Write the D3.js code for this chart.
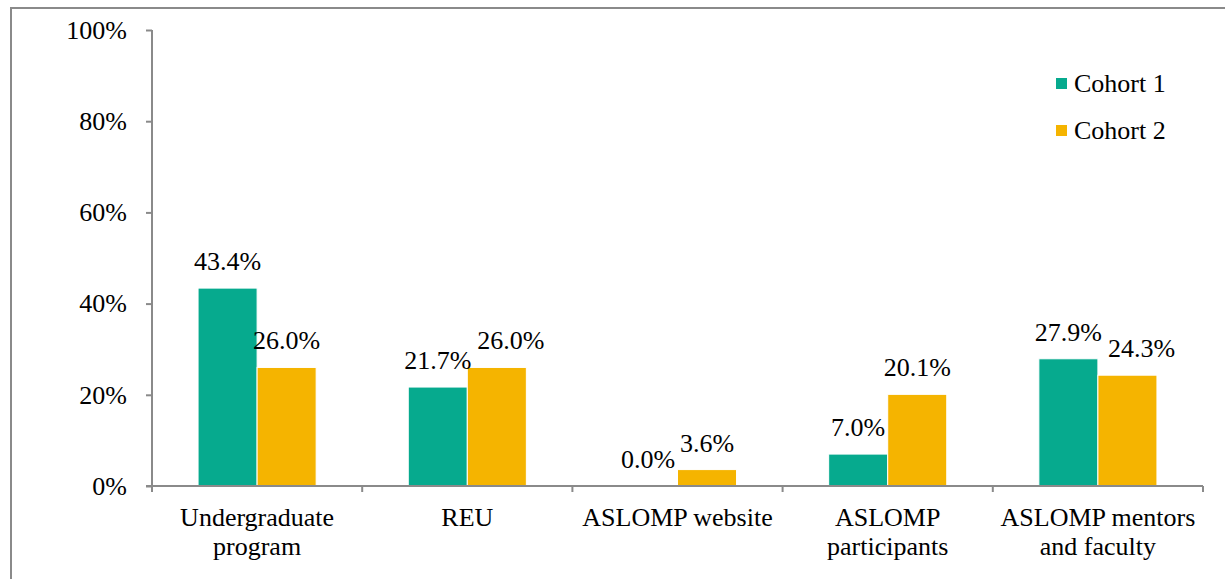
<!DOCTYPE html>
<html>
<head>
<meta charset="utf-8">
<script src="https://cdn.jsdelivr.net/npm/d3@7"></script>
<style>
	body { margin:0; background:#fff; }
</style>
</head>
<body>
<svg id="chart"></svg>
<script>
/*************** data *****************/
var categories = [
	["Undergraduate", "program"],
	["REU"],
	["ASLOMP website"],
	["ASLOMP", "participants"],
	["ASLOMP mentors", "and faculty"]
];
var seriesNames = ["Cohort 1", "Cohort 2"];
var cohort1 = [43.4, 21.7, 0.0, 7.0, 27.9];
var cohort2 = [26.0, 26.0, 3.6, 20.1, 24.3];
var yTicks = [0, 20, 40, 60, 80, 100];
var colors = ["#06aa8e", "#f5b400"];
/*************** end data *****************/

var width = 1225,
	height = 579,
	margin = {top:30, right:22, bottom:93, left:152},
	fontSize = 26,
	fontFamily = "'Liberation Serif', Tinos, 'Times New Roman', Times, serif",
	axisColor = "#8a8a8a";

var innerWidth = width - margin.left - margin.right;
var innerHeight = height - margin.top - margin.bottom;

var svg = d3.select("#chart")
	.attr("width", width)
	.attr("height", height);

//outer frame, only top and left edges show
svg.append("rect")
	.attr("x", 11).attr("y", 8)
	.attr("width", width + 20).attr("height", height + 20)
	.attr("fill", "none")
	.attr("stroke", axisColor)
	.attr("stroke-width", 2);

var g = svg.append("g")
	.attr("transform", "translate(" + margin.left + "," + margin.top + ")");

/*********** scales ***********/
var x0 = d3.scaleBand()
	.domain(d3.range(categories.length))
	.range([0, innerWidth])
	.padding(0);

var x1 = d3.scaleBand()
	.domain(seriesNames)
	.range([0, x0.bandwidth()])
	.paddingInner(0)
	.paddingOuter(0.78);

var y = d3.scaleLinear()
	.domain([0, 100])
	.range([innerHeight, 0]);

/*********** bars ***********/
var rows = categories.map(function(c, i) {
	return {i:i, values:[cohort1[i], cohort2[i]]};
});

var groups = g.selectAll("g.group")
	.data(rows)
	.enter().append("g")
	.attr("class", "group")
	.attr("transform", function(d) { return "translate(" + x0(d.i) + ",0)"; });

groups.selectAll("rect")
	.data(function(d) { return d.values.map(function(v, k) { return {k:k, v:v}; }); })
	.enter().append("rect")
	.attr("x", function(d) { return x1(seriesNames[d.k]); })
	.attr("y", function(d) { return y(d.v); })
	.attr("width", x1.bandwidth())
	.attr("height", function(d) { return innerHeight - y(d.v); })
	.attr("fill", function(d) { return colors[d.k]; })
	.attr("stroke", function(d) { return d.v > 0 ? "#fff" : "none"; })
	.attr("stroke-width", 1);

//value labels
groups.each(function(d) {
	var grp = d3.select(this);
	var labels = d.values.map(function(v, k) {
		return grp.append("text")
			.attr("x", x1(seriesNames[k]) + x1.bandwidth() / 2)
			.attr("y", y(v) - 18)
			.attr("text-anchor", "middle")
			.style("font-family", fontFamily)
			.style("font-size", fontSize + "px")
			.text(v.toFixed(1) + "%");
	});
	//simple overlap avoidance, push the second label right
	var a = labels[0].node().getBBox(), b = labels[1].node().getBBox();
	var overlapX = a.x + a.width + 2 - b.x;
	var overlapY = Math.min(a.y + a.height, b.y + b.height) - Math.max(a.y, b.y);
	if (overlapX > 0 && overlapY > 0) {
		labels[1].attr("x", +labels[1].attr("x") + overlapX + 4);
	}
});

/*********** axes ***********/
var yAxis = g.append("g")
	.call(d3.axisLeft(y).tickValues(yTicks).tickSize(6).tickPadding(19)
		.tickFormat(function(d) { return d + "%"; }));

yAxis.selectAll("text")
	.style("font-family", fontFamily)
	.style("font-size", fontSize + "px")
	.attr("fill", "#000");

var xAxis = g.append("g")
	.attr("transform", "translate(0," + innerHeight + ")")
	.call(d3.axisBottom(x0).tickSize(0).tickFormat(""));

//tick marks on category boundaries
xAxis.selectAll(".bound")
	.data(d3.range(categories.length + 1))
	.enter().append("line")
	.attr("class", "bound")
	.attr("x1", function(d) { return d * x0.step(); })
	.attr("x2", function(d) { return d * x0.step(); })
	.attr("y1", 0).attr("y2", 6);

g.selectAll(".domain, .tick line, .bound")
	.attr("stroke", axisColor)
	.attr("stroke-width", 2);

yAxis.select(".domain").attr("d", "M0," + (innerHeight) + "V0");
xAxis.select(".domain").attr("d", "M-6,0H" + innerWidth);

//category labels
g.selectAll("text.cat")
	.data(categories)
	.enter().append("text")
	.attr("class", "cat")
	.attr("text-anchor", "middle")
	.attr("transform", function(d, i) {
		return "translate(" + (x0(i) + x0.bandwidth() / 2) + "," + (innerHeight + 40) + ")";
	})
	.style("font-family", fontFamily)
	.style("font-size", fontSize + "px")
	.each(function(d) {
		var t = d3.select(this);
		d.forEach(function(line, j) {
			t.append("tspan").attr("x", 0).attr("y", j * 29).text(line);
		});
	});

/*********** legend ***********/
var legend = svg.append("g")
	.attr("transform", "translate(1056,78)");

var items = legend.selectAll("g")
	.data(seriesNames)
	.enter().append("g")
	.attr("transform", function(d, i) { return "translate(0," + i * 47 + ")"; });

items.append("rect")
	.attr("width", 11).attr("height", 11)
	.attr("fill", function(d, i) { return colors[i]; });

items.append("text")
	.attr("x", 18).attr("y", 14)
	.style("font-family", fontFamily)
	.style("font-size", fontSize + "px")
	.text(function(d) { return d; });
</script>
</body>
</html>
